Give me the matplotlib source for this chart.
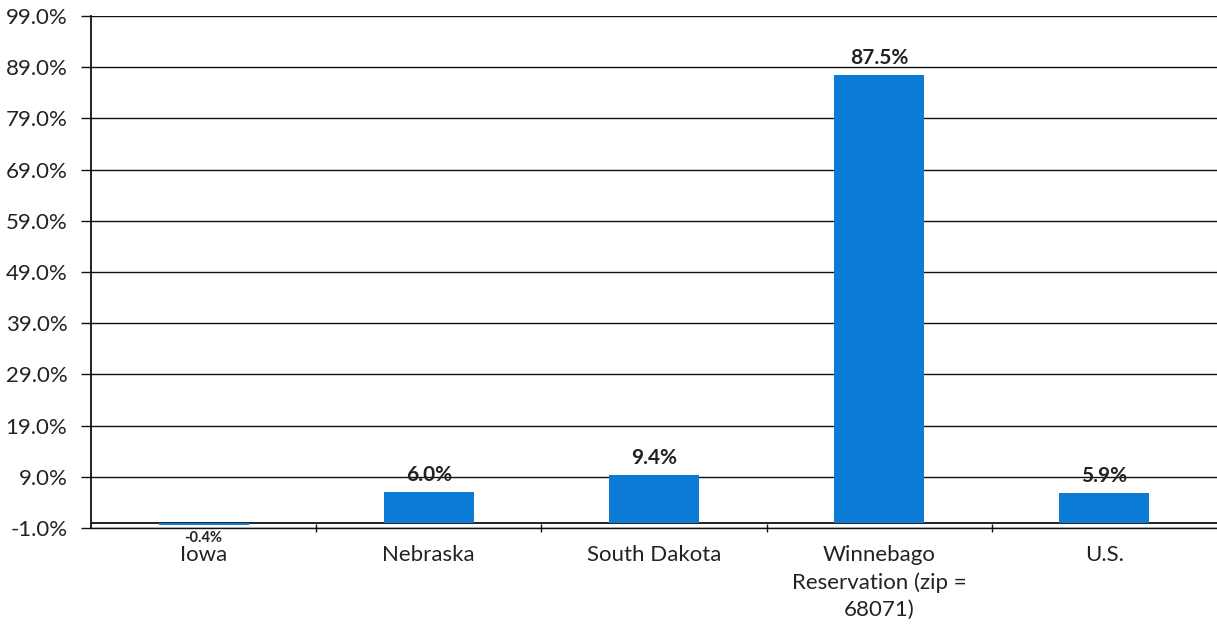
import numpy as np
import matplotlib.pyplot as plt
from matplotlib.ticker import FixedLocator

categories = ['Iowa', 'Nebraska', 'South Dakota',
              'Winnebago\nReservation (zip =\n68071)', 'U.S.']
values = [-0.4, 6.0, 9.4, 87.5, 5.9]
y_ticks = np.arange(-1.0, 100.0, 10.0)

plt.rcParams['font.family'] = ['Lato', 'DejaVu Sans']

fig = plt.figure(figsize=(12.17, 6.29), dpi=100)
ax = fig.add_axes([91 / 1217, 1 - 528 / 629, 1 - 91 / 1217, (528 - 16) / 629])

x = np.arange(len(categories))
bars = ax.bar(x, values, width=0.4, color='#0b7bd6', zorder=3)

ax.set_xlim(-0.5, len(categories) - 0.5)
ax.set_ylim(y_ticks[0], y_ticks[-1])
ax.set_yticks(y_ticks)
ax.set_yticklabels([f'{t:.1f}%' for t in y_ticks], fontsize=16, color='#222222')
ax.yaxis.grid(True, color='#111111', linewidth=1.0, zorder=1)
ax.tick_params(axis='y', length=7, width=1.0, color='#111111', pad=10)

ax.set_xticks(x)
ax.set_xticklabels(categories, fontsize=16, color='#222222', linespacing=1.45)
ax.tick_params(axis='x', length=0, pad=12)
ax.xaxis.set_minor_locator(FixedLocator(np.arange(0.5, len(categories) - 1, 1.0)))
ax.tick_params(axis='x', which='minor', length=6, width=1.0, direction='inout', color='#111111')

# zero line where the category axis crosses
ax.axhline(0, color='#111111', linewidth=1.3, zorder=2)

for side in ['top', 'right']:
    ax.spines[side].set_visible(False)
ax.spines['left'].set_linewidth(1.3)
ax.spines['left'].set_color('#111111')
ax.spines['bottom'].set_linewidth(1.0)
ax.spines['bottom'].set_color('#111111')

for xi, v in zip(x, values):
    if v >= 0:
        ax.annotate(f'{v:.1f}%', (xi, v), xytext=(0, 5), textcoords='offset points',
                    ha='center', va='bottom', fontsize=15, fontweight='bold',
                    color='#222222', zorder=4)
    else:
        ax.annotate(f'{v:.1f}%', (xi, y_ticks[0]), xytext=(0, -2), textcoords='offset points',
                    ha='center', va='top', fontsize=10.5, fontweight='bold',
                    color='#222222', zorder=4)

fig.savefig('out.png', dpi=100)
